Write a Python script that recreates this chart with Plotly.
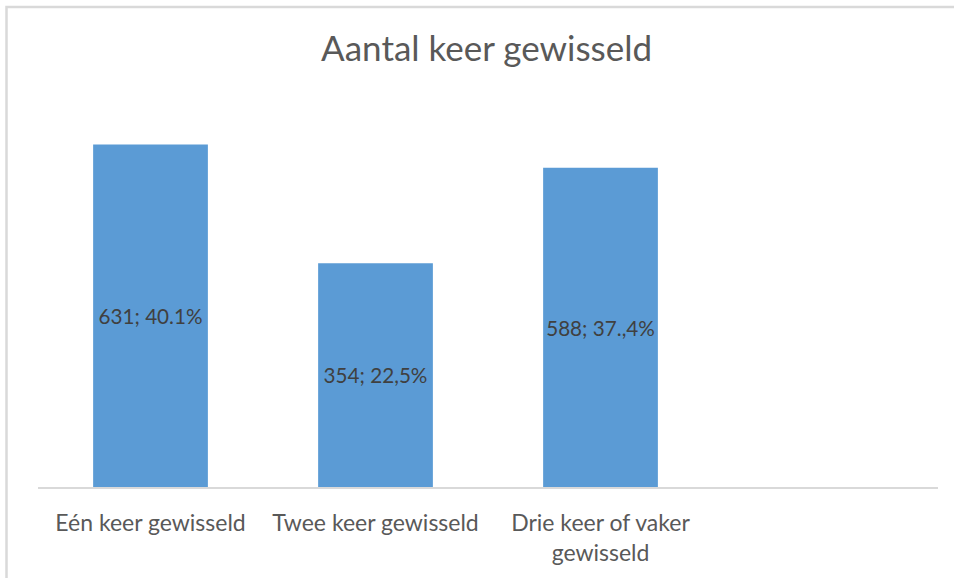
import plotly.graph_objects as go

# data
categories = ["Eén keer gewisseld", "Twee keer gewisseld", "Drie keer of vaker<br>gewisseld"]
bar_values = [631, 412, 588]
bar_labels = ["631; 40.1%", "354; 22,5%", "588; 37.,4%"]
slot_count = 4  # a fourth, empty category slot on the right

BAR_COLOR = "#5b9bd5"
TEXT_DARK = "#404040"
TEXT_GREY = "#595959"
LINE_GREY = "#d9d9d9"
FONT = "Lato"

fig = go.Figure()

fig.add_trace(go.Bar(
    x=list(range(len(categories))),
    y=bar_values,
    width=0.51,
    marker=dict(color=BAR_COLOR, line=dict(width=0)),
    text=bar_labels,
    textposition="inside",
    insidetextanchor="middle",
    textangle=0,
    textfont=dict(family=FONT, size=24, color=TEXT_DARK),
    hoverinfo="skip",
    showlegend=False,
))

# thin outer frame like the spreadsheet chart area
fig.add_shape(
    type="rect", xref="paper", yref="paper",
    x0=-0.035, x1=1.2, y0=-0.5, y1=1.263,
    line=dict(color=LINE_GREY, width=2.5), layer="below",
)

fig.update_layout(
    width=954, height=578,
    paper_bgcolor="white", plot_bgcolor="white",
    title=dict(
        text="Aantal keer gewisseld",
        font=dict(family=FONT, size=35, color=TEXT_GREY),
        x=0.51, xanchor="center", y=0.915, yanchor="middle",
    ),
    margin=dict(l=38, r=16, t=107, b=87),
    xaxis=dict(
        range=[-0.5, slot_count - 0.5],
        tickvals=list(range(len(categories))),
        ticktext=categories,
        tickfont=dict(family=FONT, size=23, color=TEXT_GREY),
        showline=True, linecolor=LINE_GREY, linewidth=2,
        showgrid=False, zeroline=False,
        ticks="", ticklabelstandoff=14,
        fixedrange=True,
    ),
    yaxis=dict(
        range=[0, 700], visible=False, showgrid=False, zeroline=False,
        fixedrange=True,
    ),
    uniformtext=dict(minsize=10, mode="show"),
)

fig.write_html(
    "out.html",
    config={"displayModeBar": False},
    post_script="document.body.style.margin = '0';",
)
